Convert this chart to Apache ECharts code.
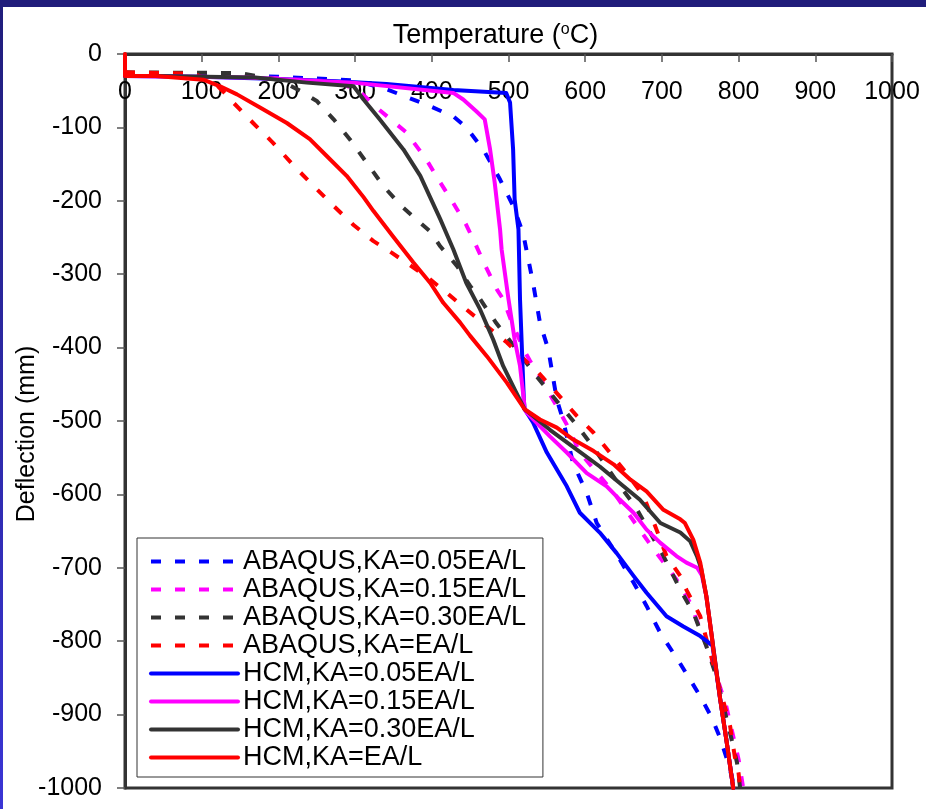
<!DOCTYPE html>
<html>
<head>
<meta charset="utf-8">
<script src="https://cdn.jsdelivr.net/npm/echarts@6/dist/echarts.min.js"></script>
<style>
html,body{margin:0;padding:0;background:#fff;}
#chart{width:926px;height:809px;}
</style>
</head>
<body>
<div id="chart"></div>
<script>
// Axis settings
const xMin = 0, xMax = 1000, xStep = 100;
const yMin = -1000, yMax = 0, yStep = 100;

// Series names
const seriesNames = [
  'ABAQUS,KA=0.05EA/L', 'ABAQUS,KA=0.15EA/L', 'ABAQUS,KA=0.30EA/L', 'ABAQUS,KA=EA/L',
  'HCM,KA=0.05EA/L', 'HCM,KA=0.15EA/L', 'HCM,KA=0.30EA/L', 'HCM,KA=EA/L'
];

// [temperature (°C), deflection (mm)]
const abaqus005 = [[0,-28],[100,-29],[200,-31],[300,-36],[341,-48],[393,-69],[428,-85],[445,-100],[467,-130],[489,-171],[506,-207],[519,-244],[532,-312],[541,-366],[552,-403],[563,-471],[571,-498],[584,-557],[602,-598],[615,-639],[640,-680],[663,-720],[680,-752],[698,-789],[723,-829],[750,-875],[765,-904],[776,-932],[787,-968],[795,-1000]];
const abaqus015 = [[0,-28],[150,-30],[280,-38],[310,-55],[328,-73],[367,-107],[393,-144],[411,-175],[428,-203],[445,-233],[456,-257],[469,-287],[485,-321],[493,-334],[503,-362],[520,-403],[528,-418],[563,-480],[576,-505],[593,-543],[619,-575],[639,-600],[671,-648],[693,-680],[719,-716],[737,-748],[750,-784],[763,-820],[784,-889],[800,-961],[806,-1000]];
const abaqus030 = [[0,-25],[150,-26],[200,-35],[228,-50],[250,-64],[272,-89],[293,-116],[315,-148],[337,-180],[360,-207],[398,-242],[411,-262],[433,-289],[450,-316],[463,-334],[483,-365],[505,-395],[535,-437],[567,-478],[590,-507],[608,-532],[643,-585],[665,-616],[702,-684],[715,-711],[724,-730],[741,-761],[758,-807],[771,-848],[793,-943],[798,-966],[802,-1000]];
const abaqusEA = [[0,-25],[90,-27],[115,-38],[128,-51],[141,-66],[167,-94],[193,-121],[219,-151],[246,-180],[272,-207],[298,-233],[324,-255],[348,-271],[393,-303],[419,-325],[445,-348],[472,-371],[498,-393],[520,-416],[539,-434],[563,-462],[589,-493],[611,-516],[632,-543],[654,-571],[676,-602],[693,-648],[706,-684],[724,-711],[732,-730],[750,-766],[756,-789],[789,-916],[795,-957],[800,-980],[802,-1000]];
const hcm005 = [[0,-30],[100,-31],[200,-34],[276,-37],[341,-41],[428,-49],[497,-53],[502,-66],[506,-130],[508,-198],[513,-239],[515,-334],[520,-471],[521,-484],[532,-502],[550,-543],[576,-589],[593,-625],[619,-652],[641,-680],[663,-711],[680,-734],[706,-766],[728,-780],[750,-793],[766,-806],[776,-879],[784,-934],[793,-1000]];
const hcm015 = [[0,-30],[159,-32],[298,-39],[428,-53],[441,-62],[458,-78],[469,-89],[476,-130],[482,-175],[489,-239],[491,-266],[500,-334],[508,-389],[515,-425],[520,-471],[521,-484],[524,-489],[554,-521],[576,-543],[602,-571],[628,-589],[645,-607],[663,-625],[680,-648],[698,-666],[719,-684],[732,-693],[746,-700],[752,-710],[758,-739],[765,-793],[776,-879],[784,-934],[793,-1000]];
const hcm030 = [[0,-30],[40,-30],[170,-32],[237,-39],[298,-44],[311,-62],[332,-89],[363,-130],[385,-166],[400,-200],[411,-225],[428,-266],[445,-312],[463,-348],[480,-389],[493,-425],[508,-457],[521,-484],[554,-512],[589,-539],[619,-562],[650,-589],[671,-607],[698,-639],[724,-652],[737,-664],[746,-685],[751,-700],[758,-739],[765,-793],[776,-879],[784,-934],[793,-1000]];
const hcmEA = [[0,0],[0,-30],[40,-30],[102,-35],[124,-44],[146,-55],[176,-73],[211,-94],[241,-116],[263,-139],[289,-166],[311,-195],[324,-214],[349,-248],[376,-284],[398,-312],[415,-339],[437,-366],[450,-384],[472,-412],[498,-448],[521,-484],[541,-498],[563,-509],[584,-525],[611,-541],[637,-559],[659,-580],[680,-596],[702,-621],[724,-634],[730,-639],[741,-662],[750,-693],[758,-739],[765,-793],[767,-811],[776,-879],[784,-934],[793,-1000]];

const seriesData = [abaqus005, abaqus015, abaqus030, abaqusEA, hcm005, hcm015, hcm030, hcmEA];
const seriesColors = ['#0000ff', '#ff00ff', '#333333', '#ff0000', '#0000ff', '#ff00ff', '#333333', '#ff0000'];
const seriesDashed = [true, true, true, true, false, false, false, false];

const FONT = "'Liberation Sans', Arial, sans-serif";

const chart = echarts.init(document.getElementById('chart'), null, {renderer: 'canvas'});

const series = seriesNames.map((name, i) => ({
  name: name,
  type: 'line',
  data: seriesData[i],
  symbol: 'none',
  smooth: false,
  clip: false,
  animation: false,
  z: 3 + i,
  lineStyle: {
    color: seriesColors[i],
    width: 4,
    type: seriesDashed[i] ? [10, 14] : 'solid',
    cap: seriesDashed[i] ? 'butt' : 'round',
    join: 'round'
  },
  itemStyle: { color: seriesColors[i] }
}));

const option = {
  backgroundColor: '#ffffff',
  animation: false,
  textStyle: { fontFamily: FONT },
  graphic: [
    { type: 'rect', shape: {x: 0, y: 0, width: 926, height: 7}, style: {fill: '#201d7b'}, z: 100 },
    { type: 'rect', shape: {x: 0, y: 0, width: 3, height: 809},
      style: {fill: new echarts.graphic.LinearGradient(0, 0, 0, 1, [{offset: 0, color: '#201d7b'}, {offset: 1, color: '#3a35d5'}])}, z: 100 }
  ],
  grid: {
    left: 125, right: 34, top: 54, bottom: 21,
    containLabel: false, outerBoundsMode: 'none',
    show: true, borderColor: '#333333', borderWidth: 3, backgroundColor: '#ffffff'
  },
  legend: {
    orient: 'vertical',
    left: 137, top: 538,
    data: seriesNames,
    itemWidth: 87, itemHeight: 14, itemGap: 1,
    padding: [10, 17, 6, 12],
    backgroundColor: '#ffffff',
    borderColor: '#333333', borderWidth: 1,
    selectedMode: false,
    itemStyle: { opacity: 0 },
    lineStyle: { width: 4 },
    textStyle: { fontFamily: FONT, fontSize: 27, color: '#000' },
    z: 20
  },
  xAxis: {
    type: 'value', position: 'top',
    min: xMin, max: xMax, interval: xStep,
    name: '{a|Temperature (}{s|o}{a|C)}',
    nameLocation: 'middle', nameGap: 5,
    nameTextStyle: {
      padding: [0, 26, 0, 0],
      rich: {
        a: { fontFamily: FONT, fontSize: 27, color: '#000' },
        s: { fontFamily: FONT, fontSize: 16, color: '#000', verticalAlign: 'top', padding: [0, 0, 8, 0] }
      }
    },
    axisLine: { show: true, onZero: false, lineStyle: { color: '#333333', width: 3 } },
    axisTick: { show: true, inside: true, length: 8, lineStyle: { color: '#555', width: 1.5 } },
    axisLabel: { inside: true, margin: 26, fontFamily: FONT, fontSize: 25, color: '#000',
      formatter: v => String(v) },
    splitLine: { show: false }
  },
  yAxis: {
    type: 'value', position: 'left',
    min: yMin, max: yMax, interval: yStep,
    name: 'Deflection (mm)',
    nameLocation: 'middle', nameGap: 85, nameMoveOverlap: false,
    nameTextStyle: { fontFamily: FONT, fontSize: 25, color: '#000', padding: [0, 26, 0, 0] },
    axisLine: { show: true, onZero: false, lineStyle: { color: '#333333', width: 3 } },
    axisTick: { show: true, inside: false, length: 8, lineStyle: { color: '#555', width: 1.5 } },
    axisLabel: { margin: 23, fontFamily: FONT, fontSize: 25, color: '#000',
      formatter: v => String(v) },
    splitLine: { show: false }
  },
  series: series
};

chart.setOption(option);
</script>
</body>
</html>
